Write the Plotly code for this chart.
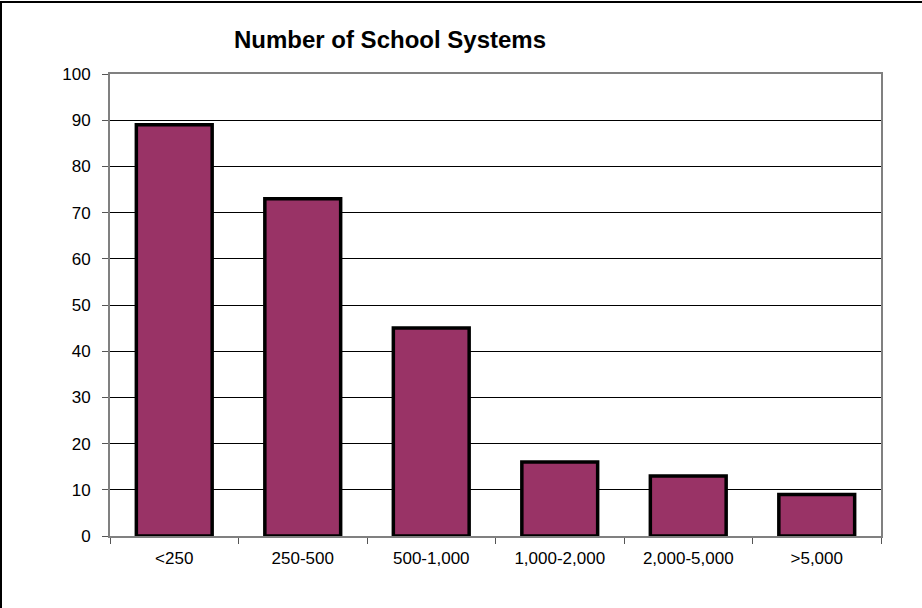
import plotly.graph_objects as go

categories = ["<250", "250-500", "500-1,000", "1,000-2,000", "2,000-5,000", ">5,000"]
values = [89, 73, 45, 16, 13, 9]
y_ticks = [0, 10, 20, 30, 40, 50, 60, 70, 80, 90, 100]

W, H = 922, 608
L, R, T, B = 110, 41, 74, 72
pw, ph = W - L - R, H - T - B

fig = go.Figure(go.Bar(
    x=categories, y=values,
    marker=dict(color="#993366", line=dict(color="#000000", width=3.5)),
    width=0.59,
))

fig.update_layout(
    width=W, height=H,
    margin=dict(l=L, r=R, t=T, b=B, pad=0),
    paper_bgcolor="white", plot_bgcolor="white",
    font=dict(family="Arial, Liberation Sans, sans-serif", size=17, color="#000000"),
    title=dict(text="<b>Number of School Systems</b>", x=390 / W, xanchor="center",
               y=1 - 40 / H, yanchor="middle", font=dict(size=24, color="#000000")),
    showlegend=False,
    bargap=0.41,
)
fig.update_xaxes(
    showline=True, linecolor="#808080", linewidth=2, mirror=True,
    ticks="outside", tickson="boundaries", ticklen=6, tickcolor="#555555", tickwidth=1,
    showgrid=False, tickfont=dict(size=17), ticklabelstandoff=6,
)
fig.update_yaxes(
    range=[0, 100], tickvals=y_ticks,
    showline=True, linecolor="#808080", linewidth=2, mirror=True,
    ticks="outside", ticklen=6, tickcolor="#555555", tickwidth=1,
    showgrid=True, gridcolor="#000000", gridwidth=1,
    tickfont=dict(size=17), ticklabelstandoff=8, zeroline=False,
)
# outer chart frame (top & left visible, right/bottom run past the page edge)
fig.add_shape(type="rect", xref="paper", yref="paper",
              x0=(1 - L) / pw, x1=(W + 10 - L) / pw,
              y0=-(H + 10 - T - ph) / ph, y1=1 + (T - 2) / ph,
              line=dict(color="#000000", width=2), layer="below")

fig.write_html("out.html")
